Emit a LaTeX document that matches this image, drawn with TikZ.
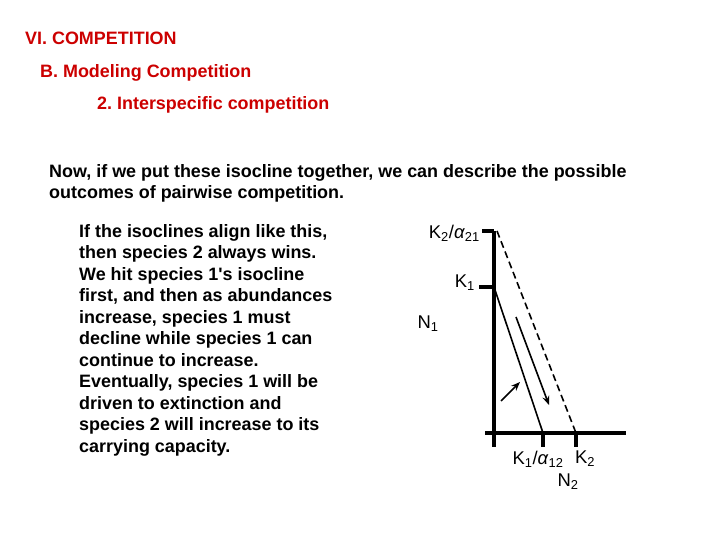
\documentclass[tikz,border=0pt]{standalone}
\usepackage{fontspec}
\setmainfont{Liberation Sans}
\usetikzlibrary{arrows,arrows.meta,positioning}
\definecolor{slidered}{RGB}{204,0,0}
\frenchspacing

\begin{document}
\begin{tikzpicture}[x=1bp,y=-1bp,
heading/.style={anchor=base west,inner sep=0pt,text=slidered,font=\fontsize{18}{21}\selectfont\bfseries},
body/.style={anchor=north west,inner sep=0pt,align=left,font=\fontsize{18}{21.6}\selectfont\bfseries},
axis/.style={line width=3.5bp},
isocline/.style={line width=1.6bp},
traj/.style={line width=1.6bp,-{Stealth[length=9bp,width=7bp]}},
lbl/.style={inner sep=0pt,font=\fontsize{18.5}{21}\selectfont}]
\useasboundingbox (0,0) rectangle (720,540);
% titles
\node[heading] (t1) at (25,45) {VI. COMPETITION};
\node[heading] (t2) at (40,78) {B. Modeling Competition};
\node[heading] (t3) at (97,110) {2. Interspecific competition};
\node[body] (intro) at (49,164) {Now, if we put these isocline together, we can describe the possible\\
outcomes of pairwise competition.};
\node[body] (expl) at (79,224) {If the isoclines align like this,\\
then species 2 always wins.\\
We hit species 1\textquotesingle s isocline\\
first, and then as abundances\\
increase, species 1 must\\
decline while species 1 can\\
continue to increase.\\
Eventually, species 1 will be\\
driven to extinction and\\
species 2 will increase to its\\
carrying capacity.};
% axes
\coordinate (o) at (494,433);
\coordinate (ytop) at (494,231);
\coordinate (ybot) at (494,447);
\coordinate (xleft) at (485,433);
\coordinate (xright) at (626,433);
\draw[axis] (ytop) -- (ybot);
\draw[axis] (xleft) -- (xright);
% ticks
\coordinate (k21) at (497,231);
\coordinate (k1) at (494,287);
\coordinate (k12) at (543,433);
\coordinate (k2) at (576,433);
\draw[axis] (482,231) -- (ytop);
\draw[axis] (479,287) -- (k1);
\draw[axis] (k12) -- ++(0,14);
\draw[axis] (k2) -- ++(0,14);
% isoclines
\draw[isocline] (k1) -- (k12);
\draw[isocline,dash pattern=on 7bp off 4bp] (k21) -- (k2);
% trajectories
\draw[traj] (516,317) -- (549,405);
\draw[traj] (501,401) -- (520,382);
% labels
\node[lbl,anchor=east] (lk21) at (480,233) {K\textsubscript{2}/\textit{α}\textsubscript{21}};
\node[lbl,anchor=east] (lk1) at (475,283) {K\textsubscript{1}};
\node[lbl] (ln1) at (428,324) {N\textsubscript{1}};
\node[lbl] (lk12) at (538,459) {K\textsubscript{1}/\textit{α}\textsubscript{12}};
\node[lbl] (lk2) at (585,459) {K\textsubscript{2}};
\node[lbl] (ln2) at (568,482) {N\textsubscript{2}};
\end{tikzpicture}
\end{document}
